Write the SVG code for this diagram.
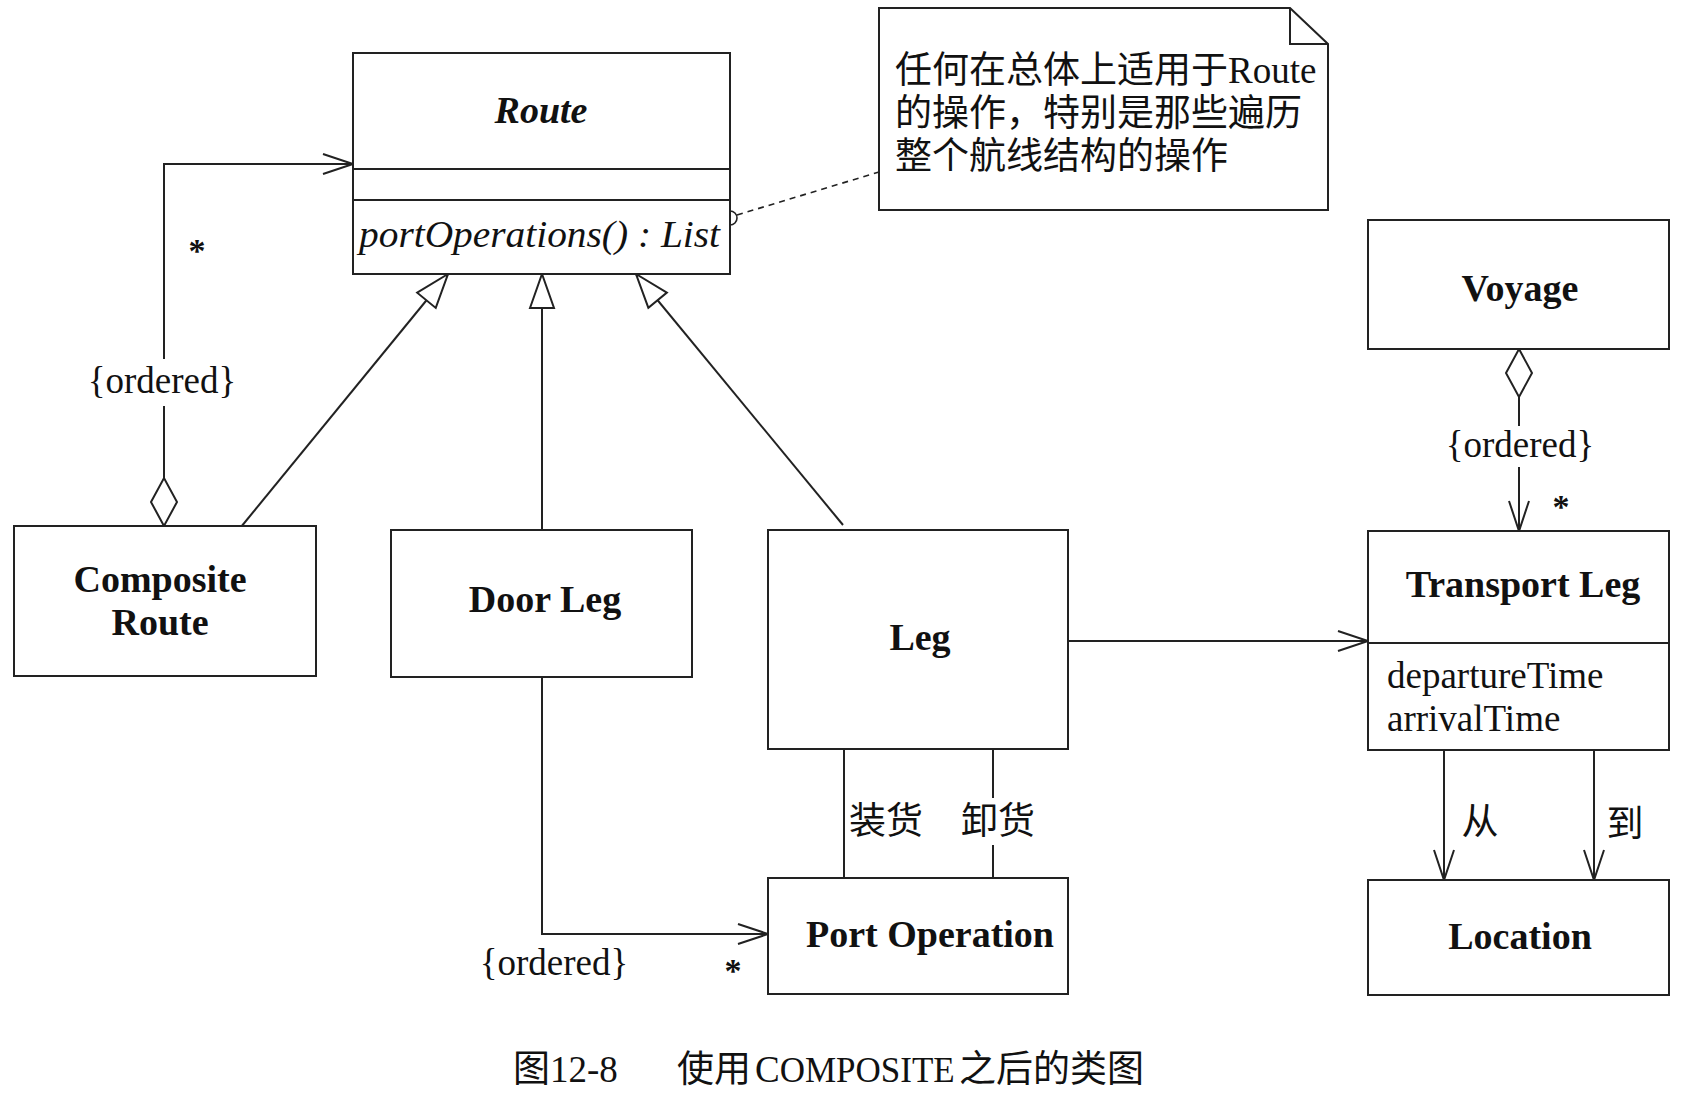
<svg xmlns="http://www.w3.org/2000/svg" width="1690" height="1114" viewBox="0 0 1690 1114">
<style>
.box{fill:#fff;stroke:#222;stroke-width:2}
.ln{fill:none;stroke:#222;stroke-width:2}
.dash{fill:none;stroke:#222;stroke-width:1.6;stroke-dasharray:6 5}
.name{font-family:"Liberation Serif","Noto Sans CJK SC",serif;font-weight:bold;font-size:38px;fill:#111;text-anchor:middle}
.txt{font-family:"Liberation Serif","Noto Sans CJK SC",serif;font-size:37px;fill:#111}
.mid{text-anchor:middle}
.star{font-family:"Liberation Serif",serif;font-size:34px;font-weight:bold;fill:#111;text-anchor:middle}
</style>
<defs>
<marker id="arrow" viewBox="-34 -14 38 28" refX="0" refY="0" markerWidth="38" markerHeight="28" orient="auto" markerUnits="userSpaceOnUse" overflow="visible">
<path d="M-30,-10 L0,0 L-30,10" fill="none" stroke="#222" stroke-width="2"/>
</marker>
<marker id="tri" viewBox="-38 -16 42 32" refX="0" refY="0" markerWidth="42" markerHeight="32" orient="auto" markerUnits="userSpaceOnUse" overflow="visible">
<path d="M-34,-12 L0,0 L-34,12 Z" fill="#fff" stroke="#222" stroke-width="2"/>
</marker>
<marker id="dia" viewBox="-4 -16 56 32" refX="0" refY="0" markerWidth="56" markerHeight="32" orient="auto" markerUnits="userSpaceOnUse" overflow="visible">
<path d="M0,0 L24,-13 L48,0 L24,13 Z" fill="#fff" stroke="#222" stroke-width="2"/>
</marker>
</defs>
<rect width="1690" height="1114" fill="#fff"/>

<g id="connectors">
<path class="ln" d="M164,526 L164,406" marker-start="url(#dia)"/>
<path class="ln" d="M164,359 L164,164 L353,164" marker-end="url(#arrow)"/>
<text class="txt mid" x="162" y="393">{ordered}</text>
<text class="star" x="197" y="262">*</text>
<path class="ln" d="M241,527 L448,274" marker-end="url(#tri)"/>
<path class="ln" d="M542,530 L542,274" marker-end="url(#tri)"/>
<path class="ln" d="M843,525 L636,274" marker-end="url(#tri)"/>
<path class="ln" d="M542,677 L542,934 L768,934" marker-end="url(#arrow)"/>
<text class="txt mid" x="554" y="975">{ordered}</text>
<text class="star" x="733" y="982">*</text>
<path class="ln" d="M844,749 L844,878"/>
<path class="ln" d="M993,749 L993,798"/>
<path class="ln" d="M993,845 L993,878"/>
<text class="txt" x="849" y="834">装货</text>
<text class="txt mid" x="998" y="834">卸货</text>
<path class="ln" d="M1068,641 L1368,641" marker-end="url(#arrow)"/>
<path class="ln" d="M1519,349 L1519,426" marker-start="url(#dia)"/>
<path class="ln" d="M1519,467 L1519,531" marker-end="url(#arrow)"/>
<text class="txt mid" x="1520" y="457">{ordered}</text>
<text class="star" x="1561" y="518">*</text>
<path class="ln" d="M1444,750 L1444,880" marker-end="url(#arrow)"/>
<path class="ln" d="M1594,750 L1594,880" marker-end="url(#arrow)"/>
<text class="txt mid" x="1480" y="835">从</text>
<text class="txt mid" x="1625" y="837">到</text>
<circle cx="730" cy="218" r="7" fill="#fff" stroke="#222" stroke-width="1.6"/>
<path class="dash" d="M737,215 L879,172"/>
</g>

<g id="route">
<rect class="box" x="353" y="53" width="377" height="221"/>
<line class="ln" x1="353" y1="169" x2="730" y2="169"/>
<line class="ln" x1="353" y1="200" x2="730" y2="200"/>
<text class="name" x="541" y="123" font-style="italic">Route</text>
<text class="txt" x="359" y="247" font-style="italic" textLength="361" lengthAdjust="spacingAndGlyphs">portOperations() : List</text>
</g>

<g id="note">
<path class="box" d="M879,8 L1290,8 L1328,44 L1328,210 L879,210 Z"/>
<path class="ln" d="M1290,8 L1290,44 L1328,44"/>
<text class="txt" x="895" y="83">任何在总体上适用于Route</text>
<text class="txt" x="895" y="126">的操作，特别是那些遍历</text>
<text class="txt" x="895" y="169">整个航线结构的操作</text>
</g>

<g id="composite-route">
<rect class="box" x="14" y="526" width="302" height="150"/>
<text class="name" x="160" y="592">Composite</text>
<text class="name" x="160" y="635">Route</text>
</g>

<g id="door-leg">
<rect class="box" x="391" y="530" width="301" height="147"/>
<text class="name" x="545" y="612">Door Leg</text>
</g>

<g id="leg">
<rect class="box" x="768" y="530" width="300" height="219"/>
<text class="name" x="920" y="650">Leg</text>
</g>

<g id="port-operation">
<rect class="box" x="768" y="878" width="300" height="116"/>
<text class="name" x="930" y="947">Port Operation</text>
</g>

<g id="voyage">
<rect class="box" x="1368" y="220" width="301" height="129"/>
<text class="name" x="1520" y="301">Voyage</text>
</g>

<g id="transport-leg">
<rect class="box" x="1368" y="531" width="301" height="219"/>
<line class="ln" x1="1368" y1="643" x2="1669" y2="643"/>
<text class="name" x="1523" y="597">Transport Leg</text>
<text class="txt" x="1387" y="688">departureTime</text>
<text class="txt" x="1387" y="731">arrivalTime</text>
</g>

<g id="location">
<rect class="box" x="1368" y="880" width="301" height="115"/>
<text class="name" x="1520" y="949">Location</text>
</g>

<g id="caption">
<text class="txt" font-size="40" y="1082"><tspan x="513">图12-8</tspan><tspan x="677">使用</tspan><tspan x="755">C</tspan><tspan font-size="35">OMPOSITE</tspan><tspan x="959">之后的类图</tspan></text>
</g>
</svg>
